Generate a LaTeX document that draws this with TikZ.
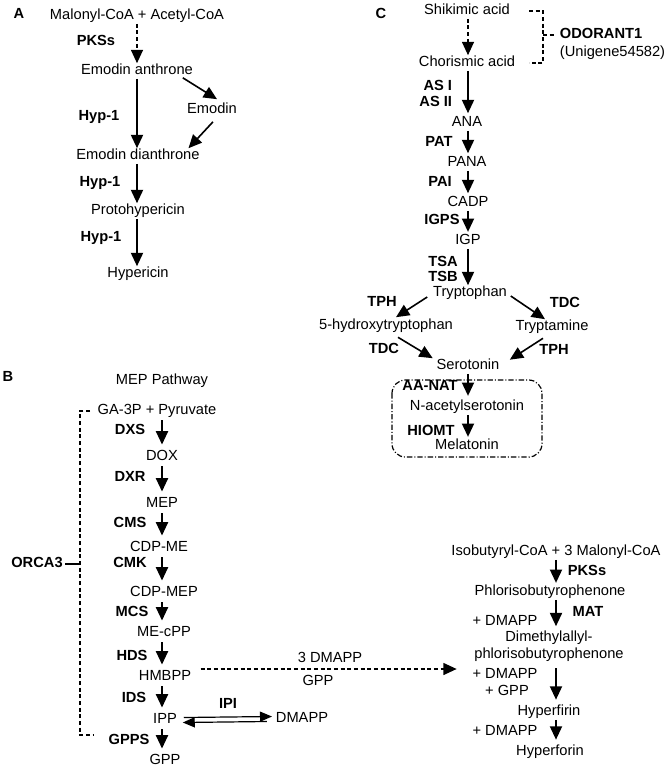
\documentclass[tikz,border=0pt]{standalone}
\usepackage{fontspec}
\setmainfont{Liberation Sans}
\usetikzlibrary{arrows.meta,calc}
\begin{document}
\begin{tikzpicture}[x=0.75pt,y=-0.75pt,
  mol/.style={font=\fontsize{11}{13}\selectfont, inner sep=0.5pt, text height=8pt, text depth=2.3pt},
  mol2/.style={font=\fontsize{11}{12.75}\selectfont, inner sep=0.5pt, align=center},
  enz/.style={mol, font=\fontsize{11}{13}\selectfont\bfseries},
  arr/.style={line width=1.4pt, -{Triangle[width=9pt,length=10pt]}},
  darr/.style={line width=1pt, dash pattern=on 3pt off 2pt, -{Triangle[width=9pt,length=10pt]}},
  diag/.style={line width=1.2pt, -{Triangle[width=9pt,length=10pt]}},
  brk/.style={line width=0.9pt, dash pattern=on 3pt off 2pt},
  ipiarr/.style={line width=0.9pt, -{Triangle[width=7.5pt,length=9pt]}},
]
\useasboundingbox (0,0) rectangle (670,771);

% ---------------- Panel A ----------------
\node[enz] (lA) at (19,15) {A};
\node[mol] (ma) at (137,16) {Malonyl-CoA + Acetyl-CoA};
\node[mol] (ea) at (137,71) {Emodin anthrone};
\node[mol] (em) at (212,110) {Emodin};
\node[mol] (ed) at (138,156) {Emodin dianthrone};
\node[mol] (ph) at (138,211) {Protohypericin};
\node[mol] (hy) at (138,274) {Hypericin};
\node[enz] (pksA) at (96,42) {PKSs};
\node[enz] (h1) at (99,117) {Hyp-1};
\node[enz] (h2) at (100,183) {Hyp-1};
\node[enz] (h3) at (101,238) {Hyp-1};
\coordinate (ax) at (137,0);
\draw[darr] (ma.south -| ax) -- (ea.north -| ax);
\draw[arr] (ea.south -| ax) -- (ed.north -| ax);
\draw[arr] (ed.south -| ax) -- (ph.north -| ax);
\draw[arr] (ph.south -| ax) -- (hy.north -| ax);
\draw[diag] ($(ea.south east)+(-11,-1)$) -- ($(em.north)+(5,-3)$);
\draw[diag] ($(em.south)+(1,4)$) -- ($(ed.north east)+(-12,0)$);

% ---------------- Panel C ----------------
\node[enz] (lC) at (381,15) {C};
\node[mol] (sh) at (467,11) {Shikimic acid};
\node[mol] (ch) at (467,63) {Chorismic acid};
\node[mol] (ana) at (467,123) {ANA};
\node[mol] (pana) at (467,163) {PANA};
\node[mol] (cadp) at (468,203) {CADP};
\node[mol] (igp) at (468,241) {IGP};
\node[mol] (trp) at (470,293) {Tryptophan};
\node[mol] (htp) at (386,326) {5-hydroxytryptophan};
\node[mol] (tpa) at (552,327) {Tryptamine};
\node[mol] (ser) at (468,366) {Serotonin};
\node[mol] (nas) at (467,407) {N-acetylserotonin};
\node[mol] (mel) at (467,446) {Melatonin};

\node[enz, anchor=east] (as1) at (453,87) {AS I};
\node[enz, anchor=east] (as2) at (453,103) {AS II};
\node[enz] (pat) at (439,143) {PAT};
\node[enz] (pai) at (440,183) {PAI};
\node[enz] (igps) at (442,221) {IGPS};
\node[enz] (tsa) at (443,263) {TSA};
\node[enz] (tsb) at (443,278) {TSB};
\node[enz] (tph1) at (382,303) {TPH};
\node[enz] (tdc1) at (384,350) {TDC};
\node[enz] (tdc2) at (565,304) {TDC};
\node[enz] (tph2) at (554,351) {TPH};
\node[enz] (aanat) at (430,387) {AA-NAT};
\node[enz] (hiomt) at (431,432) {HIOMT};

\node[enz, anchor=west] (od) at (559,35) {ODORANT1};
\node[mol, anchor=west] (ug) at (559,53) {(Unigene54582)};
\draw[brk] (529,11) -- (543,11) -- (543,63) -- (529,63);
\draw[brk, shorten >=3pt] (543,35) -- (od.west);

\coordinate (cx) at (468,0);
\draw[darr] (sh.south -| cx) -- (ch.north -| cx);
\draw[arr, shorten >=1.5pt] (ch.south -| cx) -- (ana.north -| cx);
\draw[arr, shorten >=1.5pt] (ana.south -| cx) -- (pana.north -| cx);
\draw[arr, shorten >=1.5pt] (pana.south -| cx) -- (cadp.north -| cx);
\draw[arr, shorten >=1pt] (cadp.south -| cx) -- (igp.north -| cx);
\draw[arr] (igp.south -| cx) -- (trp.north -| cx);
\draw[arr, shorten >=2.5pt] (ser.south -| cx) -- (nas.north -| cx);
\draw[arr, shorten >=1pt] (nas.south -| cx) -- (mel.north -| cx);

\draw[diag] ($(trp.west)+(-5,4)$) -- ($(htp.north)+(10,-1)$);
\draw[diag] ($(trp.east)+(3,3)$) -- ($(tpa.north)+(-7,0)$);
\draw[diag] ($(htp.south)+(12,3.5)$) -- ($(ser.north west)+(-3,0)$);
\draw[diag] ($(tpa.south)+(-9,3.5)$) -- ($(ser.north east)+(9.5,1.5)$);

\draw[line width=0.9pt, dash pattern=on 4pt off 1.5pt on 0.8pt off 1.5pt, rounded corners=10pt]
  (392,380) rectangle (542,457);

% ---------------- Panel B ----------------
\node[enz] (lB) at (8,378) {B};
\node[mol] (mep0) at (162,381) {MEP Pathway};
\node[mol] (ga) at (157,411) {GA-3P + Pyruvate};
\node[mol] (dox) at (162,457) {DOX};
\node[mol] (mep) at (162,504) {MEP};
\node[mol] (cdpme) at (159,548) {CDP-ME};
\node[mol] (cdpmep) at (164,593) {CDP-MEP};
\node[mol] (mecpp) at (164,633) {ME-cPP};
\node[mol] (hm) at (165,677) {HMBPP};
\node[mol] (ipp) at (165,720) {IPP};
\node[mol] (gpp) at (165,761) {GPP};
\node[mol] (dm) at (302,719) {DMAPP};

\node[enz] (dxs) at (130,431) {DXS};
\node[enz] (dxr) at (130,478) {DXR};
\node[enz] (cms) at (130,524) {CMS};
\node[enz] (cmk) at (130,564) {CMK};
\node[enz] (mcs) at (132,613) {MCS};
\node[enz] (hds) at (132,657) {HDS};
\node[enz] (ids) at (134,699) {IDS};
\node[enz] (gpps) at (129,741) {GPPS};
\node[enz] (ipi) at (228,705) {IPI};
\node[enz] (orca) at (37,564) {ORCA3};

\draw[brk] (90,411) -- (80,411) -- (80,735) -- (93,735);
\draw[line width=0.9pt] ($(orca.east)+(1.5,0)$) -- (80,564);

\coordinate (bx) at (162,0);
\foreach \a/\b in {ga/dox, dox/mep, mep/cdpme, cdpme/cdpmep, cdpmep/mecpp, mecpp/hm, hm/ipp, ipp/gpp}
  \draw[arr, shorten <=1pt, shorten >=3.5pt] (\a.south -| bx) -- (\b.north -| bx);

\draw[ipiarr] ($(ipp.east)+(6,-2.5)$) -- ($(dm.west)+(-3,-2.5)$);
\draw[ipiarr] ($(dm.west)+(-8,2.5)$) -- ($(ipp.east)+(5,2.5)$);

% ---------------- Hyperforin panel ----------------
\node[mol] (iso) at (556,552) {Isobutyryl-CoA + 3 Malonyl-CoA};
\node[mol] (phl) at (550,592) {Phlorisobutyrophenone};
\node[mol2] (dim) at (549,646.5) {Dimethylallyl-\\phlorisobutyrophenone};
\node[mol] (hf) at (549,712) {Hyperfirin};
\node[mol] (hfo) at (550,752) {Hyperforin};
\node[enz] (pksR) at (587,572) {PKSs};
\node[enz] (mat) at (588,613) {MAT};
\node[mol] (pd1) at (505,622) {+ DMAPP};
\node[mol] (pd2) at (505,675) {+ DMAPP};
\node[mol] (pg) at (507,692) {+ GPP};
\node[mol] (pd3) at (505,732) {+ DMAPP};

\coordinate (rx) at (556,0);
\draw[arr, shorten >=1pt] (iso.south -| rx) -- (phl.north -| rx);
\draw[arr, shorten >=3pt] (phl.south -| rx) -- (dim.north -| rx);
\draw[arr, shorten <=4pt, shorten >=3.4pt] (dim.south -| rx) -- (hf.north -| rx);
\draw[arr, shorten >=3.4pt] (hf.south -| rx) -- (hfo.north -| rx);

% dashed link from MEP pathway
\node[mol] (dm3) at (330,659) {3 DMAPP};
\node[mol] (gpp2) at (318,682) {GPP};
\draw[darr] ($(hm.east)+(8.5,-8)$) -- ($(pd2.west)+(-15,-6)$);

\end{tikzpicture}
\end{document}
